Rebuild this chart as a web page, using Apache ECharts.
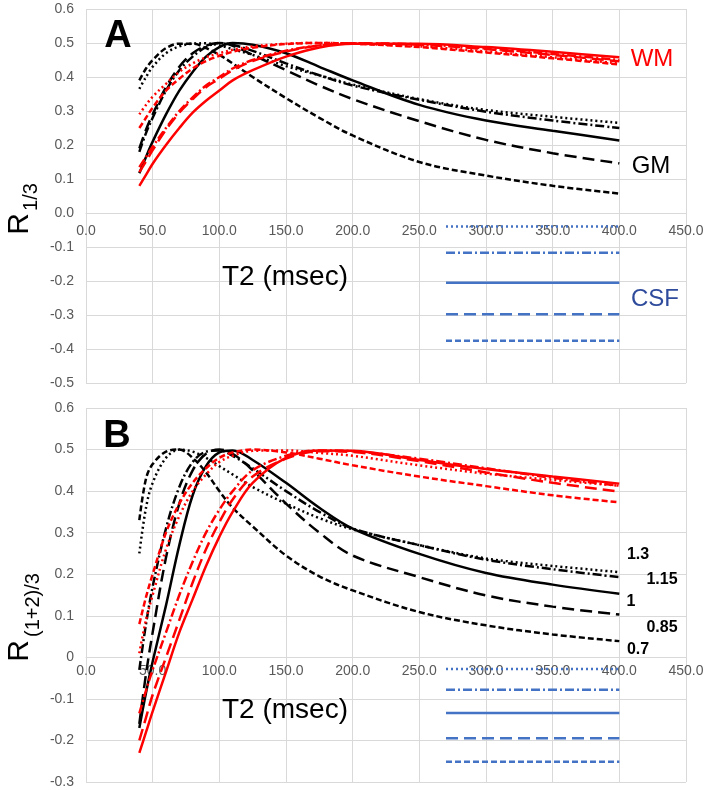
<!DOCTYPE html>
<html><head><meta charset="utf-8">
<script src="https://cdn.jsdelivr.net/npm/echarts@6/dist/echarts.min.js"></script>
<style>html,body{margin:0;padding:0;background:#fff}#c{width:709px;height:790px}</style>
</head><body><div id="c"></div>
<script>
// T2 sample points (msec)
const T2 = [40,45,50,60,70,80,90,100,110,125,150,175,200,250,300,350,400];
const factors = ['1.3','1.15','1','0.85','0.7'];

// Panel A (R 1/3) — GM (black)
const gmA_13  = [0.365,0.40,0.43,0.47,0.49,0.498,0.499,0.493,0.482,0.465,0.432,0.405,0.378,0.335,0.303,0.283,0.265];
const gmA_115 = [0.18,0.235,0.28,0.36,0.42,0.46,0.488,0.50,0.495,0.477,0.44,0.405,0.375,0.333,0.298,0.272,0.25];
const gmA_1   = [0.117,0.165,0.21,0.29,0.36,0.415,0.46,0.488,0.50,0.495,0.47,0.43,0.39,0.318,0.272,0.242,0.213];
const gmA_085 = [0.19,0.245,0.29,0.37,0.43,0.47,0.492,0.50,0.492,0.465,0.42,0.375,0.335,0.27,0.215,0.176,0.146];
const gmA_07  = [0.39,0.425,0.45,0.485,0.498,0.498,0.485,0.465,0.44,0.40,0.338,0.28,0.228,0.15,0.11,0.08,0.057];
// Panel A — WM (red)
const wmA_13  = [0.29,0.318,0.342,0.38,0.415,0.44,0.458,0.47,0.48,0.49,0.498,0.50,0.498,0.49,0.475,0.458,0.44];
const wmA_115 = [0.135,0.165,0.195,0.25,0.30,0.34,0.375,0.40,0.425,0.45,0.477,0.493,0.499,0.496,0.484,0.468,0.45];
const wmA_1   = [0.08,0.112,0.145,0.20,0.25,0.295,0.33,0.36,0.39,0.42,0.46,0.487,0.498,0.498,0.488,0.474,0.458];
const wmA_085 = [0.12,0.152,0.185,0.245,0.295,0.335,0.37,0.395,0.42,0.447,0.475,0.492,0.499,0.495,0.482,0.465,0.446];
const wmA_07  = [0.25,0.28,0.31,0.36,0.395,0.425,0.447,0.462,0.474,0.486,0.497,0.50,0.498,0.488,0.472,0.455,0.437];
// Panel A — CSF (blue, constant)
const csfX = [270, 400];
const csfA = [-0.04,-0.117,-0.205,-0.298,-0.376];

// Panel B (R (1+2)/3) — GM (black)
const gmB_13  = [0.25,0.36,0.42,0.48,0.50,0.495,0.48,0.46,0.44,0.41,0.37,0.335,0.308,0.27,0.238,0.22,0.205];
const gmB_115 = [-0.03,0.08,0.17,0.31,0.41,0.47,0.495,0.498,0.485,0.455,0.40,0.35,0.31,0.27,0.235,0.212,0.193];
const gmB_1   = [-0.17,-0.085,-0.01,0.125,0.27,0.39,0.46,0.493,0.498,0.475,0.42,0.36,0.31,0.249,0.203,0.175,0.153];
const gmB_085 = [-0.16,-0.04,0.06,0.24,0.37,0.45,0.49,0.50,0.49,0.45,0.37,0.30,0.245,0.193,0.149,0.122,0.103];
const gmB_07  = [0.33,0.43,0.465,0.495,0.50,0.48,0.445,0.40,0.36,0.315,0.245,0.195,0.161,0.109,0.077,0.055,0.039];
// Panel B — WM (red)
const wmB_13  = [0.01,0.09,0.15,0.26,0.34,0.40,0.44,0.47,0.485,0.497,0.498,0.492,0.485,0.462,0.442,0.427,0.413];
const wmB_115 = [-0.135,-0.08,-0.03,0.06,0.15,0.23,0.30,0.355,0.40,0.45,0.485,0.498,0.496,0.478,0.455,0.432,0.413];
const wmB_1   = [-0.23,-0.18,-0.13,-0.035,0.06,0.14,0.22,0.29,0.35,0.42,0.48,0.498,0.497,0.475,0.453,0.435,0.418];
const wmB_085 = [-0.20,-0.145,-0.09,0.0,0.09,0.18,0.26,0.325,0.38,0.435,0.478,0.496,0.494,0.472,0.445,0.42,0.399];
const wmB_07  = [0.08,0.145,0.20,0.30,0.37,0.42,0.455,0.48,0.493,0.50,0.493,0.478,0.462,0.435,0.412,0.39,0.373];
// Panel B — CSF
const csfB = [-0.028,-0.078,-0.134,-0.195,-0.251];

const dash = {'1.3':[2,3], '1.15':[9,3,2,3], '1':'solid', '0.85':[12,6], '0.7':[6,3]};
const BLACK='#000000', RED='#ff0000', BLUE='#4472c4';
const FONT = "'Liberation Sans', Arial, sans-serif";

function curve(grid, vals, color, f){
  return {type:'line', xAxisIndex:grid, yAxisIndex:grid, symbol:'none', smooth:0.35,
    silent:true, data:T2.map((t,i)=>[t, vals[i]]),
    lineStyle:{color:color, width:2.5, type:dash[f], cap:'butt'}};
}
function flat(grid, v, f){
  return {type:'line', xAxisIndex:grid, yAxisIndex:grid, symbol:'none', silent:true,
    data:csfX.map(x=>[x, v]), lineStyle:{color:BLUE, width:2.5, type:dash[f]}};
}
const series = [];
[[gmA_13,gmA_115,gmA_1,gmA_085,gmA_07],[gmB_13,gmB_115,gmB_1,gmB_085,gmB_07]].forEach((set,g)=>{
  set.forEach((v,i)=>series.push(curve(g, v, BLACK, factors[i])));
});
[[wmA_13,wmA_115,wmA_1,wmA_085,wmA_07],[wmB_13,wmB_115,wmB_1,wmB_085,wmB_07]].forEach((set,g)=>{
  set.forEach((v,i)=>series.push(curve(g, v, RED, factors[i])));
});
[csfA, csfB].forEach((set,g)=>{
  set.forEach((v,i)=>series.push(flat(g, v, factors[i])));
});

const GRID_H = 374;
function xAxis(grid, ymin, margin){
  // place the axis (line + labels) at y = 0 of the value axis
  const off = -GRID_H * (-ymin) / (0.6 - ymin);
  return {type:'value', gridIndex:grid, min:0, max:450, interval:50, position:'bottom', offset:off,
    axisLine:{show:true, onZero:false, lineStyle:{color:'#d9d9d9', width:1}},
    axisTick:{show:false},
    axisLabel:{color:'#595959', fontSize:14, fontFamily:FONT, margin:margin, formatter:v=>v.toFixed(1)},
    splitLine:{show:true, lineStyle:{color:'#d9d9d9', width:1}}};
}
function yAxis(grid, min, zeroPlain){
  return {type:'value', gridIndex:grid, min:min, max:0.6, interval:0.1,
    axisLine:{show:false}, axisTick:{show:false},
    axisLabel:{color:'#595959', fontSize:14, fontFamily:FONT, margin:12,
      formatter:v=> (Math.abs(v)<1e-9) ? (zeroPlain ? '0' : '0.0') : v.toFixed(1)},
    splitLine:{show:true, lineStyle:{color:'#d9d9d9', width:1}}};
}

function txt(x,y,text,size,color,weight,rot){
  return {type:'text', x:x, y:y, rotation:rot||0, silent:true, z:100,
    style:{text:text, fontSize:size, fill:color, fontWeight:weight||'normal', fontFamily:FONT, align:'center', verticalAlign:'middle'}};
}

const option = {
  animation:false,
  backgroundColor:'#ffffff',
  grid:[{left:86, top:9, width:600, height:GRID_H},{left:86, top:408, width:600, height:GRID_H}],
  xAxis:[xAxis(0,-0.5,11), xAxis(1,-0.3,7)],
  yAxis:[yAxis(0,-0.5,false), yAxis(1,-0.3,true)],
  series:series,
  graphic:[
    txt(118,37,'A',38,'#000','bold'),
    txt(117,437,'B',38,'#000','bold'),
    txt(285,277,'T2 (msec)',28,'#000'),
    txt(285,710,'T2 (msec)',28,'#000'),
    txt(652,59,'WM',24,'#ff0000'),
    txt(651,166,'GM',24,'#000'),
    txt(655,299,'CSF',24,'#2f4b9c'),
    txt(20,224,'R',30,'#000','normal',Math.PI/2),
    txt(31,197,'1/3',20,'#000','normal',Math.PI/2),
    txt(20,651,'R',30,'#000','normal',Math.PI/2),
    txt(33,605,'(1+2)/3',20,'#000','normal',Math.PI/2),
    txt(638,555,'1.3',16,'#000','bold'),
    txt(662,580,'1.15',16,'#000','bold'),
    txt(631,602,'1',16,'#000','bold'),
    txt(662,628,'0.85',16,'#000','bold'),
    txt(638,650,'0.7',16,'#000','bold')
  ]
};
const chart = echarts.init(document.getElementById('c'), null, {renderer:'canvas'});
chart.setOption(option);
</script></body></html>
